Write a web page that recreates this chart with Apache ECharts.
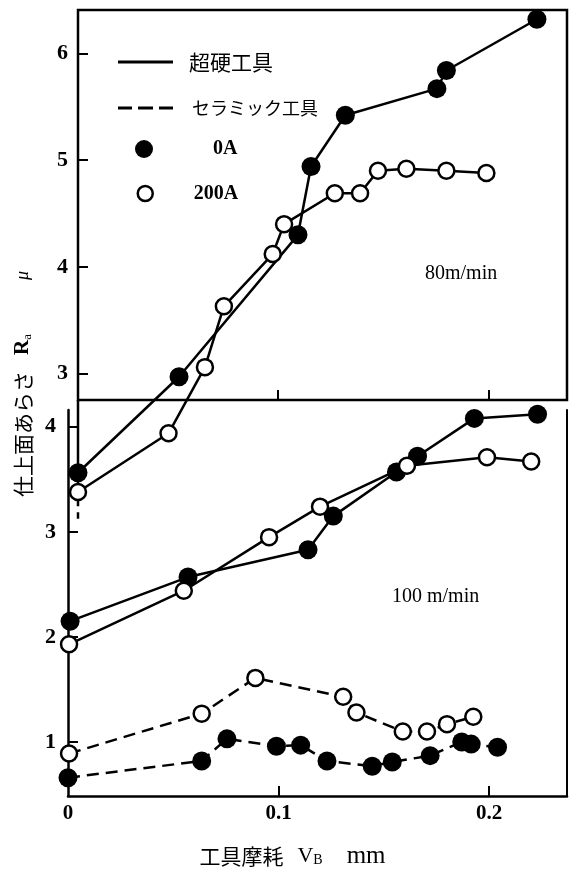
<!DOCTYPE html>
<html>
<head>
<meta charset="utf-8">
<script src="https://cdn.jsdelivr.net/npm/echarts@6/dist/echarts.min.js"></script>
<style>
  html, body { margin: 0; padding: 0; background: #fff; }
  #chart { width: 572px; height: 870px; }
</style>
</head>
<body>
<div id="chart"></div>
<script>
// 80 m/min (upper panel), cemented carbide tool
var v80_0A = [[0.005, 2.07], [0.053, 2.97], [0.1095, 4.30], [0.1157, 4.94], [0.132, 5.42],
              [0.1755, 5.67], [0.180, 5.84], [0.223, 6.32]];
var v80_200A = [[0.005, 1.89], [0.048, 2.44], [0.0653, 3.06], [0.0743, 3.63], [0.0975, 4.12],
                [0.1029, 4.40], [0.127, 4.69], [0.139, 4.69], [0.1475, 4.90], [0.161, 4.92],
                [0.180, 4.90], [0.199, 4.88]];
// 100 m/min (lower panel), cemented carbide tool
var v100_0A = [[0.001, 2.15], [0.057, 2.57], [0.114, 2.83], [0.126, 3.15], [0.156, 3.57],
               [0.166, 3.72], [0.193, 4.08], [0.223, 4.12]];
var v100_200A = [[0.0005, 1.93], [0.055, 2.44], [0.0955, 2.95], [0.1197, 3.24], [0.161, 3.63],
                 [0.199, 3.71], [0.220, 3.67]];
// ceramic tool
var cer_0A = [[0, 0.66], [0.0635, 0.82], [0.0755, 1.03], [0.099, 0.96], [0.1105, 0.97],
              [0.123, 0.82], [0.1445, 0.77], [0.154, 0.81], [0.172, 0.87], [0.187, 1.00],
              [0.1915, 0.98], [0.204, 0.95]];
var cer_200A = [[0.0005, 0.89], [0.0635, 1.27], [0.089, 1.61], [0.1307, 1.43], [0.137, 1.28],
                [0.159, 1.10], [0.1705, 1.10], [0.180, 1.17], [0.1925, 1.24]];
// continuation of the upper panel's left axis below the break
var upperAxisSolid = [[0.005, 2.752], [0.005, 2.0]];
var upperAxisDashed = [[0.005, 2.0], [0.005, 1.64]];

var upperTicksY = [3, 4, 5, 6];
var lowerTicksY = [1, 2, 3, 4];
var ticksX = [0.1, 0.2];
var labelsX = [0, 0.1, 0.2];

var serif = 'Liberation Serif';
var cjk = 'Noto Sans CJK JP';

var myChart = echarts.init(document.getElementById('chart'));

var solidDot = { color: '#000' };
var openDot = { color: '#fff', borderColor: '#000', borderWidth: 2.5 };

function lineSeries(name, data, grid, filled, dashed) {
    return {
        name: name,
        type: 'line',
        xAxisIndex: grid,
        yAxisIndex: grid === 0 ? 0 : 1,
        data: data,
        clip: false,
        symbol: 'circle',
        symbolSize: filled ? 19 : 16,
        itemStyle: filled ? solidDot : openDot,
        lineStyle: { color: '#000', width: 2.5, type: dashed ? [12, 7] : 'solid' },
        z: filled ? 3 : 4,
        animation: false
    };
}

var option = {
    backgroundColor: '#fff',
    animation: false,
    grid: [
        { left: 78, top: 10, width: 489, height: 390, show: true, borderColor: '#000', borderWidth: 2.5 },
        { left: 68, top: 410, width: 499, height: 393 }
    ],
    xAxis: [
        {
            gridIndex: 0, type: 'value', min: 0.005, max: 0.2373,
            splitLine: { show: false }, axisLine: { show: false },
            axisTick: { inside: true, length: 10, customValues: ticksX, lineStyle: { color: '#000', width: 2 } },
            axisLabel: { show: false }
        },
        {
            gridIndex: 1, type: 'value', min: 0, max: 0.237,
            splitLine: { show: false },
            axisLine: { onZero: false, lineStyle: { color: '#000', width: 2.5 } },
            axisTick: { inside: true, length: 10, customValues: ticksX, lineStyle: { color: '#000', width: 2 } },
            axisLabel: {
                customValues: labelsX, margin: 7, color: '#000',
                fontFamily: serif, fontWeight: 'bold', fontSize: 21,
                formatter: function (v) { return v === 0 ? '0' : v.toFixed(1); }
            },
            name: '工具摩耗{g1| }{v|V}{b|B}{g2| }{m|mm}',
            nameLocation: 'middle',
            nameGap: 48,
            nameTextStyle: {
                color: '#000', fontFamily: cjk, fontSize: 21, padding: [0, 50, 0, 0],
                rich: {
                    g1: { width: 14 },
                    g2: { width: 24 },
                    v: { fontFamily: serif, fontSize: 22, color: '#000' },
                    b: { fontFamily: serif, fontSize: 14, color: '#000', padding: [8, 0, 0, 0] },
                    m: { fontFamily: serif, fontSize: 25, color: '#000' }
                }
            }
        }
    ],
    yAxis: [
        {
            gridIndex: 0, type: 'value', min: 2.752, max: 6.407,
            splitLine: { show: false }, axisLine: { show: false },
            axisTick: { inside: true, length: 10, customValues: upperTicksY, lineStyle: { color: '#000', width: 2 } },
            axisLabel: {
                customValues: upperTicksY, margin: 10, color: '#000',
                fontFamily: serif, fontWeight: 'bold', fontSize: 22
            }
        },
        {
            gridIndex: 1, type: 'value', min: 0.486, max: 4.16,
            splitLine: { show: false },
            axisLine: { onZero: false, lineStyle: { color: '#000', width: 2.5 } },
            axisTick: { inside: true, length: 10, customValues: lowerTicksY, lineStyle: { color: '#000', width: 2 } },
            axisLabel: {
                customValues: lowerTicksY, margin: 12, color: '#000',
                fontFamily: serif, fontWeight: 'bold', fontSize: 22
            }
        },
        {
            gridIndex: 1, type: 'value', position: 'right', min: 0.486, max: 4.16,
            splitLine: { show: false },
            axisLine: { show: true, onZero: false, lineStyle: { color: '#000', width: 2 } },
            axisTick: { show: false }, axisLabel: { show: false }
        }
    ],
    legend: [
        {
            data: [{ name: '超硬工具', icon: 'path://M0,0H55V3H0Z' }],
            left: 118, top: 51.5, padding: 0,
            itemWidth: 55, itemHeight: 4,
            itemStyle: { color: '#000', borderWidth: 0, opacity: 1 },
            textStyle: { fontFamily: cjk, fontSize: 21, color: '#000', padding: [5, 0, 0, 11] },
            selectedMode: false
        },
        {
            data: [{ name: 'セラミック工具', icon: 'path://M0,0H14V3H0Z M20,0H35V3H20Z M41,0H55V3H41Z' }],
            left: 118, top: 99, padding: 0,
            itemWidth: 55, itemHeight: 4,
            itemStyle: { color: '#000', borderWidth: 0, opacity: 1 },
            textStyle: { fontFamily: cjk, fontSize: 18, color: '#000', padding: [0, 0, 0, 14] },
            selectedMode: false
        },
        {
            data: [{ name: '0A', icon: 'circle' }],
            left: 135, top: 139, padding: 0,
            itemWidth: 18, itemHeight: 18,
            itemStyle: { color: '#000', borderWidth: 0, opacity: 1 },
            textStyle: { fontFamily: serif, fontWeight: 'bold', fontSize: 20, color: '#000', padding: [0, 0, 0, 55] },
            selectedMode: false
        },
        {
            data: [{ name: '200A', icon: 'circle' }],
            left: 136.5, top: 183.5, padding: 0,
            itemWidth: 15, itemHeight: 15,
            itemStyle: { color: '#fff', borderColor: '#000', borderWidth: 2.5, opacity: 1 },
            textStyle: { fontFamily: serif, fontWeight: 'bold', fontSize: 20, color: '#000', padding: [0, 0, 0, 36] },
            selectedMode: false
        }
    ],
    graphic: [
        {
            type: 'text', x: 23, y: 384, rotation: Math.PI / 2,
            style: {
                text: '仕上面あらさ{g1| }{r|R}{a|a}{g2| }{mu|μ}',
                fill: '#000', font: '21px "Noto Sans CJK JP"',
                align: 'center', verticalAlign: 'middle',
                rich: {
                    g1: { width: 16 },
                    g2: { width: 54 },
                    r: { fontFamily: serif, fontWeight: 'bold', fontSize: 21, fill: '#000' },
                    a: { fontFamily: serif, fontSize: 13, fill: '#000', padding: [9, 0, 0, 0] },
                    mu: { fontFamily: serif, fontStyle: 'italic', fontSize: 18, fill: '#000' }
                }
            }
        },
        {
            type: 'text', left: 425, top: 264,
            style: { text: '80m/min', fill: '#000', font: '20px "Liberation Serif"' }
        },
        {
            type: 'text', left: 392, top: 587,
            style: { text: '100 m/min', fill: '#000', font: '20px "Liberation Serif"' }
        }
    ],
    series: [
        // legend entries
        { name: '超硬工具', type: 'line', xAxisIndex: 0, yAxisIndex: 0, data: [], symbol: 'none',
          lineStyle: { color: '#000', width: 3 }, itemStyle: { color: '#000' } },
        { name: 'セラミック工具', type: 'line', xAxisIndex: 0, yAxisIndex: 0, data: [], symbol: 'none',
          lineStyle: { color: '#000', width: 3, type: [13, 7] }, itemStyle: { color: '#000' } },
        { name: '0A', type: 'scatter', xAxisIndex: 0, yAxisIndex: 0, data: [], symbol: 'circle', itemStyle: solidDot },
        { name: '200A', type: 'scatter', xAxisIndex: 0, yAxisIndex: 0, data: [], symbol: 'circle', itemStyle: openDot },
        // upper axis continuation
        { type: 'line', xAxisIndex: 0, yAxisIndex: 0, data: upperAxisSolid, clip: false, symbol: 'none',
          lineStyle: { color: '#000', width: 2.5 }, z: 1 },
        { type: 'line', xAxisIndex: 0, yAxisIndex: 0, data: upperAxisDashed, clip: false, symbol: 'none',
          lineStyle: { color: '#000', width: 2.5, type: [10, 6] }, z: 1 },
        // data
        lineSeries('80m 0A', v80_0A, 0, true, false),
        lineSeries('80m 200A', v80_200A, 0, false, false),
        lineSeries('100m 0A', v100_0A, 1, true, false),
        lineSeries('100m 200A', v100_200A, 1, false, false),
        lineSeries('cer 0A', cer_0A, 1, true, true),
        lineSeries('cer 200A', cer_200A, 1, false, true)
    ]
};

myChart.setOption(option);
</script>
</body>
</html>
